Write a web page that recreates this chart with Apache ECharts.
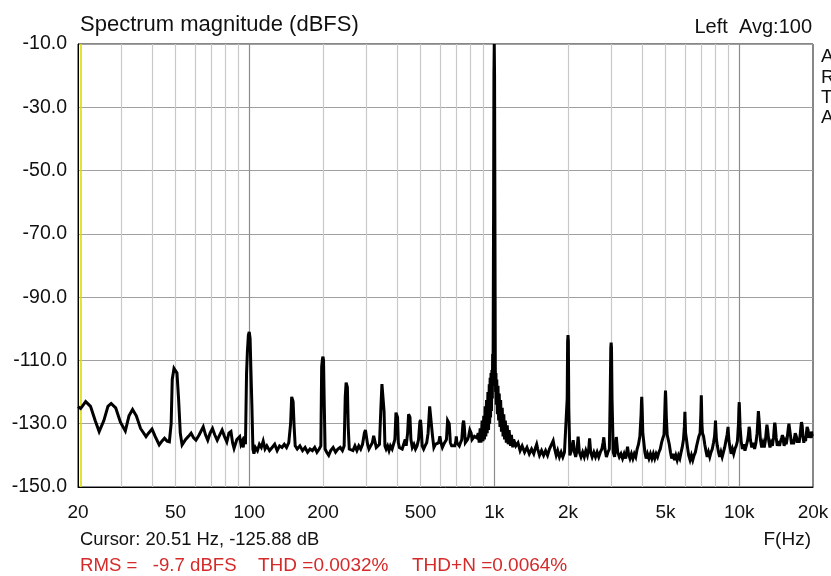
<!DOCTYPE html>
<html><head><meta charset="utf-8">
<script src="https://cdn.jsdelivr.net/npm/echarts@6/dist/echarts.min.js"></script>
<style>html,body{margin:0;padding:0;background:#fff}#c{width:831px;height:576px}</style>
</head><body><div id="c"></div>
<script>
// Spectrum: [frequency Hz, magnitude dBFS]
const spectrum = [
[20,-124.6],[20.5,-125.2],[21.5,-123],[22.5,-124.5],[23.5,-129],[24.4,-132.5],[25.5,-129],[26.5,-124.5],[27.3,-123.6],[28.5,-125],
[29.8,-129.5],[31.2,-132.3],[32.3,-127.5],[33.4,-125.5],[34.6,-127.5],[36,-131.5],[37.9,-134.1],[38.8,-133],[40.1,-131.7],[41.3,-134],
[42.9,-136.7],[44,-135.5],[45.1,-134.6],[46.2,-135.5],[47.2,-135.7],[48,-130],[48.5,-116],[49.3,-112.5],[50,-112],[50.7,-114],
[51.5,-122.5],[52.3,-133],[53.2,-136.7],[55,-135],[56.5,-134],[57.9,-133],[59.3,-134.5],[60.6,-135.2],[62.5,-133.5],[64.9,-131],
[66.3,-133.5],[67.7,-135.2],[69.2,-133],[70.8,-131.5],[72.3,-133.5],[74,-135.2],[75.8,-133.5],[77.5,-132],[79.2,-134],[81,-135.7],
[82.6,-133],[84.2,-132.5],[85.5,-136],[86.7,-137.8],[89,-135],[91.4,-134.1],[92.5,-136.5],[93.5,-135.7],[94.5,-137.5],[95.5,-134],
[96.5,-136.5],[97.5,-114],[98.3,-107],[99.2,-102],[100,-101],[100.8,-103],[101.5,-112],[102.5,-124],[103.5,-138],[104.5,-139.5],
[106,-137.5],[108,-138.5],[110,-136.5],[112,-137.5],[114,-135.5],[116,-138],[118,-137],[121,-138.5],[124,-137.5],[127,-136.5],
[130,-138.5],[133,-137],[136,-137.5],[139,-136.5],[142,-137.5],[145,-136],[147.5,-130],[149,-121.5],[150,-121],[151,-123],
[152.5,-131],[154,-137],[157,-138],[161,-137],[165,-138.5],[169,-137.5],[173,-139],[177,-138],[181,-138.5],[185,-137.5],
[189,-139],[193,-138],[196,-137],[197.5,-112],[199,-109.5],[200,-108.8],[201,-110],[202.5,-125],[204,-138],[207,-139],
[211,-140],[215,-138.5],[220,-137.5],[225,-139],[230,-138],[235,-137.5],[240,-138.5],[244,-137],[246.5,-121.5],[248.5,-117],
[250,-116.8],[251.5,-118.5],[253.5,-131],[256,-138],[260,-137.5],[265,-138.5],[270,-137],[275,-138.5],[280,-137],[285,-138],
[290,-136.5],[295,-133],[298,-132],[301,-132.5],[304,-136.5],[308,-138],[313,-137],[318,-136],[322,-133.8],[326,-134],
[330,-137.5],[335,-138],[340,-136.5],[345,-124],[348,-117.5],[350,-117],[352,-118],[355,-126],[358,-137],[362,-138],
[367,-137],[372,-138.5],[377,-137],[383,-138],[388,-136.5],[393,-135],[397,-126.5],[400,-126.2],[403,-128],[406,-136],
[410,-137.5],[416,-137],[421,-138],[427,-136.5],[433,-135],[437,-137],[443,-133],[447,-127],[450,-126.7],[453,-128],
[457,-135],[463,-137.5],[470,-136.5],[477,-138],[484,-137],[491,-135],[497,-129.5],[500,-128.8],[503,-131],[508,-137],
[515,-138],[522,-137],[530,-136],[537,-133],[545,-124.5],[550,-123.9],[555,-125],[560,-134],[567,-137.5],[575,-136.5],
[585,-137],[593,-136],[600,-134],[606,-136],[614,-137.5],[622,-136.5],[630,-137],[638,-135],[645,-129],[650,-128.5],
[655,-130],[662,-136],[670,-137],[680,-136.5],[690,-137],[697,-135.5],[700,-134],[704,-136],[712,-136.5],[720,-137],
[728,-136],[737,-135],[745,-130],[750,-129],[755,-131],[762,-136],[770,-135.5],[778,-135],[786,-134],[795,-132],
[800,-131.5],[805,-133],[812,-135],[820,-134.5],[830,-134],[840,-133.5],[850,-134.5],
[860,-133],[868,-136],[876,-131.5],[884,-136],[892,-129],[900,-135.5],[906,-127.5],[912,-135],[918,-124.5],[924,-134],
[930,-122.5],[936,-133],[942,-120],[948,-132],[954,-117.5],[958,-130],[962,-115.5],[966,-128],[970,-114],[974,-126],
[978,-113],[982,-122],[985,-108],[988,-118],[990,-102.5],[994,-60],[997,-20],[1000,-10],[1003,-20],[1006,-60],
[1010,-112],[1013,-120],[1016,-114],[1020,-124],[1024,-116],[1030,-127],[1036,-118],[1042,-129],[1048,-120.5],[1055,-131],
[1062,-122.5],[1070,-132.5],[1078,-125],[1086,-134],[1094,-127],[1102,-135],[1110,-129],[1120,-136],[1130,-130.5],[1140,-136.5],
[1150,-132],[1165,-137],[1175,-133.5],[1190,-137.5],
[1200,-135],[1225,-137],[1250,-136],[1275,-138.5],[1300,-137],[1330,-139],[1360,-137.5],[1390,-139.5],[1420,-138],[1450,-139.5],
[1475,-137.5],[1490,-136.5],[1505,-138],[1530,-140],[1560,-138.5],[1590,-140],[1620,-138.5],[1650,-140],[1680,-138],[1710,-137.5],
[1740,-135.4],[1765,-138],[1790,-140],[1815,-138.5],[1845,-140.5],[1875,-139],[1905,-140.5],[1935,-139],[1960,-139.5],[1985,-122],
[1993,-104],[2000,-102],[2007,-104],[2015,-125],[2035,-140],[2065,-138.5],[2100,-135.2],[2125,-139],[2150,-140.5],[2175,-138.5],
[2200,-134.1],[2225,-139],[2260,-140.5],[2295,-139],[2330,-140.5],[2365,-138.5],[2400,-140],[2430,-138],[2450,-134.6],[2475,-139],
[2510,-140.5],[2550,-139],[2590,-140.5],[2630,-139],[2670,-140.5],[2710,-139],[2750,-138],[2780,-136],[2800,-134.3],[2830,-138],
[2870,-140.5],[2910,-139],[2950,-138],[2975,-120],[2990,-106],[3000,-104.4],[3010,-106],[3025,-122],[3060,-139],[3100,-140.5],
[3150,-134.2],[3190,-139],[3240,-140.5],[3290,-139.5],[3340,-141],[3390,-139.5],[3440,-141],[3480,-138.5],[3500,-137.3],[3530,-139.5],
[3580,-141],[3630,-139.5],[3680,-141],[3730,-139.5],[3780,-140.5],[3830,-138],[3880,-136.5],[3930,-134],[3975,-127],[3990,-123],
[4000,-121.5],[4015,-125],[4040,-133],[4080,-136],[4120,-139],[4170,-141],[4220,-139.5],[4280,-141],[4340,-139.5],[4400,-141],
[4460,-139.5],[4520,-141],[4580,-139.5],[4640,-140.5],[4700,-139],[4760,-138],[4820,-136],[4880,-134.5],[4930,-133.5],[4960,-128],
[4985,-122],[5000,-119.5],[5015,-122],[5040,-128],[5080,-133.5],[5130,-134],[5180,-136.5],[5240,-139],[5300,-141],[5370,-139.5],
[5440,-141.5],[5510,-140],[5580,-141.5],[5650,-140],[5720,-141],[5790,-139],[5850,-137.5],[5920,-135],[5970,-131],[5990,-128],
[6000,-126.2],[6015,-129],[6040,-133],[6090,-135],[6150,-137.5],[6220,-140],[6300,-141.5],[6380,-140],[6460,-141.5],[6540,-140],
[6620,-139],[6700,-137],[6770,-135.5],[6840,-134],[6920,-133],[6970,-127],[6990,-123],[7000,-121],[7015,-124],[7040,-130],
[7080,-133],[7150,-134],[7230,-136.5],[7310,-138.5],[7400,-140.5],[7490,-139],[7580,-140.5],[7670,-139],[7760,-138],[7850,-136],
[7930,-134],[7975,-131],[8000,-129],[8025,-131.5],[8070,-135],[8140,-137],[8230,-139],[8320,-140.5],[8420,-139],[8520,-140.5],
[8620,-139],[8720,-137.5],[8820,-135.5],[8920,-133.5],[8975,-132],[9000,-131],[9030,-133],[9080,-135.5],[9170,-137.5],[9270,-139.5],
[9380,-138],[9490,-139.5],[9600,-138],[9720,-137],[9830,-135.5],[9930,-130],[9970,-125],[10000,-123.2],[10030,-126],[10080,-131],
[10180,-135.5],[10300,-138],[10420,-136.5],[10550,-138.5],[10680,-137],[10800,-135.5],[10900,-133.5],[10970,-131],[11030,-132],[11100,-135],
[11250,-137.5],[11400,-136],[11550,-138],[11700,-136],[11830,-133],[11930,-128],[11970,-126],[12000,-125.7],[12030,-126.5],[12080,-130],
[12200,-135],[12350,-137.5],[12500,-136],[12650,-137.5],[12800,-135],[12920,-131.5],[12970,-130.3],[13000,-130.1],[13060,-132],[13200,-135.5],
[13350,-137.5],[13500,-136],[13650,-137],[13800,-134.5],[13920,-130.5],[13960,-129.7],[14020,-130.5],[14150,-134.5],[14300,-137],[14450,-135.5],
[14600,-137],[14750,-135.5],[14900,-134.5],[15000,-133.6],[15100,-135],[15250,-137],[15400,-135.5],[15550,-136.5],[15700,-134.5],[15850,-131.5],
[15950,-130],[16000,-129.7],[16060,-130.5],[16200,-134],[16350,-136.5],[16500,-135],[16650,-136.5],[16800,-134.5],[16920,-133],[17000,-132.5],
[17100,-134],[17250,-136],[17400,-134.5],[17550,-136],[17700,-134],[17850,-131],[17950,-129.5],[18000,-129],[18060,-130.5],[18200,-134],
[18350,-136],[18500,-134],[18650,-135.5],[18800,-133],[18920,-131],[19000,-130.4],[19100,-132],[19250,-134.5],[19400,-133],[19550,-134.5],
[19700,-132.5],[19850,-134],[20000,-134]
];
const xTickValues = [20,50,100,200,500,1000,2000,5000,10000,20000];
const xTickLabels = ['20','50','100','200','500','1k','2k','5k','10k','20k'];
const minorGridHz = [30,40,50,60,70,80,90,200,300,400,500,600,700,800,900,2000,3000,4000,5000,6000,7000,8000,9000];
const majorGridHz = [100,1000,10000];
const cursorHz = 20.51;
const sideLetters = ['A','R','T','A'];

const FONT = '"Liberation Sans", Arial, sans-serif';
const INK = '#111';
const RED = '#d42a2a';
const chart = echarts.init(document.getElementById('c'), null, {renderer:'canvas'});

function xLabel(v){
  for (let i=0;i<xTickValues.length;i++){
    if (Math.abs(v - xTickValues[i]) / xTickValues[i] < 1e-6) return xTickLabels[i];
  }
  return '';
}
const vline = (f) => ({xAxis: f});

const graphics = [
  {type:'text', x:80, y:25, style:{text:'Spectrum magnitude (dBFS)', font:'22px '+FONT, fill:INK, verticalAlign:'middle'}},
  {type:'text', x:812, y:27, style:{text:'Left  Avg:100', font:'20px '+FONT, fill:INK, align:'right', verticalAlign:'middle'}},
  {type:'text', x:80, y:540, style:{text:'Cursor: 20.51 Hz, -125.88 dB', font:'18.4px '+FONT, fill:INK, verticalAlign:'middle'}},
  {type:'text', x:811, y:540, style:{text:'F(Hz)', font:'19px '+FONT, fill:INK, align:'right', verticalAlign:'middle'}},
  {type:'text', x:80, y:566, style:{text:'RMS =   -9.7 dBFS', font:'18.6px '+FONT, fill:RED, verticalAlign:'middle'}},
  {type:'text', x:258, y:566, style:{text:'THD =0.0032%', font:'19px '+FONT, fill:RED, verticalAlign:'middle'}},
  {type:'text', x:412, y:566, style:{text:'THD+N =0.0064%', font:'19px '+FONT, fill:RED, verticalAlign:'middle'}}
];
sideLetters.forEach((t,i)=>{
  graphics.push({type:'text', x:821, y:57+i*20.3, style:{text:t, font:'19px '+FONT, fill:INK, verticalAlign:'middle'}});
});

chart.setOption({
  animation:false,
  backgroundColor:'#fff',
  grid:{left:78, right:18, top:44, bottom:89, show:true, borderColor:'#111', borderWidth:1, backgroundColor:'#fff', outerBoundsMode:'none'},
  xAxis:{
    type:'log', logBase:10, min:20, max:20000,
    axisLine:{show:true, onZero:false, lineStyle:{color:'#000', width:1}},
    axisTick:{show:false},
    splitLine:{show:false},
    axisLabel:{customValues:xTickValues, formatter:xLabel, color:INK, fontSize:19, fontFamily:FONT, margin:16}
  },
  yAxis:{
    type:'value', min:-150, max:-10, interval:20,
    axisLine:{show:true, lineStyle:{color:'#000', width:1}},
    axisTick:{show:false},
    splitLine:{show:true, lineStyle:{color:'#a0a0a0', width:1}},
    axisLabel:{formatter:(v)=>v.toFixed(1), color:INK, fontSize:19.5, fontFamily:FONT, margin:11}
  },
  graphic:graphics,
  series:[
    {type:'line', data:[], z:1, silent:true,
     markLine:{silent:true, symbol:['none','none'], label:{show:false}, animation:false,
       lineStyle:{color:'#c8c8c8', width:1.2, type:'solid'}, emphasis:{disabled:true},
       data:minorGridHz.map(vline)}},
    {type:'line', data:[], z:2, silent:true,
     markLine:{silent:true, symbol:['none','none'], label:{show:false}, animation:false,
       lineStyle:{color:'#8c8c8c', width:1.2, type:'solid'}, emphasis:{disabled:true},
       data:majorGridHz.map(vline)}},
    {type:'line', data:spectrum, z:5, showSymbol:false, symbol:'none', silent:true,
     lineStyle:{color:'#000', width:3, join:'miter', miterLimit:4}, clip:true},
    {type:'line', data:[], z:6, silent:true,
     markLine:{silent:true, symbol:['none','none'], label:{show:false}, animation:false,
       lineStyle:{color:'#dcdc00', width:1.6, type:'solid'}, emphasis:{disabled:true},
       data:[{xAxis:cursorHz}]}}
  ]
});
</script></body></html>
